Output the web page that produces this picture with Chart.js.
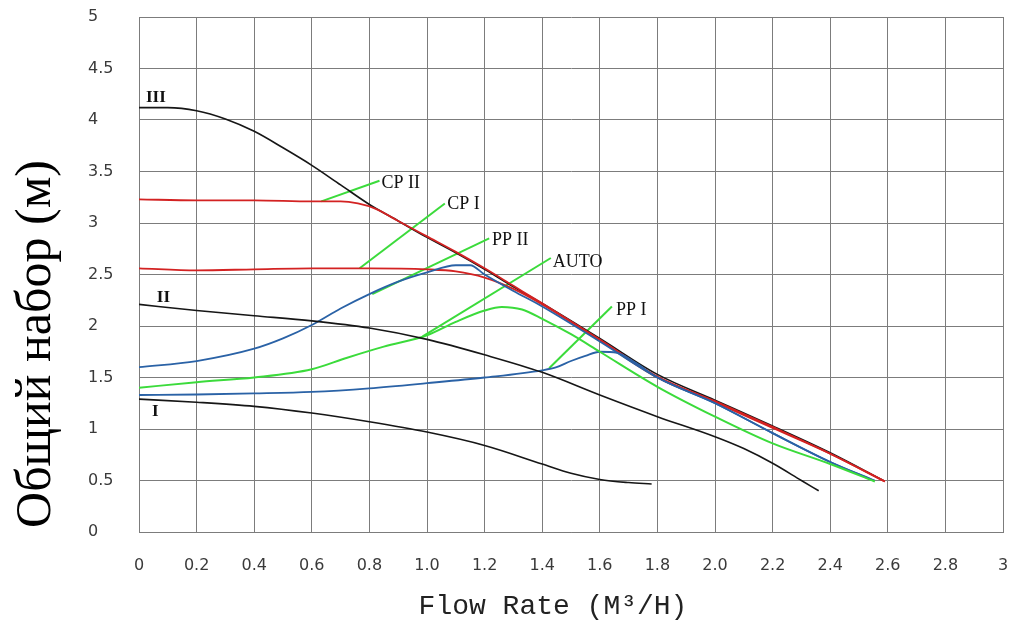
<!DOCTYPE html>
<html>
<head>
<meta charset="utf-8">
<script src="https://cdn.jsdelivr.net/npm/chart.js@4.4.1/dist/chart.umd.min.js"></script>
<style>
  html, body { margin: 0; padding: 0; background: #fff; }
  #wrap { width: 1018px; height: 626px; }
</style>
</head>
<body>
<div id="wrap"><canvas id="pumpChart" width="1018" height="626"></canvas></div>
<script>
// Кривые насоса: расход (м3/ч) и напор (м)
const xTickLabels = ['0', '0.2', '0.4', '0.6', '0.8', '1.0', '1.2', '1.4', '1.6', '1.8', '2.0', '2.2', '2.4', '2.6', '2.8', '3'];
const yTickLabels = ['0', '0.5', '1', '1.5', '2', '2.5', '3', '3.5', '4', '4.5', '5'];

const flowIII = [0, 0.1, 0.2, 0.3, 0.4, 0.5, 0.6, 0.7, 0.8, 0.9, 1.0, 1.1, 1.2, 1.3, 1.4, 1.6, 1.8, 2.0, 2.2, 2.4, 2.585];
const headIII = [4.12, 4.12, 4.09, 4.01, 3.89, 3.73, 3.56, 3.37, 3.18, 3.02, 2.86, 2.71, 2.55, 2.38, 2.22, 1.88, 1.53, 1.28, 1.03, 0.77, 0.5];

const flowII = [0, 0.2, 0.4, 0.6, 0.8, 1.0, 1.2, 1.4, 1.6, 1.8, 2.0, 2.1, 2.2, 2.3, 2.36];
const headII = [2.21, 2.15, 2.10, 2.05, 1.98, 1.87, 1.72, 1.55, 1.33, 1.12, 0.925, 0.81, 0.667, 0.5, 0.40];

const flowI = [0, 0.2, 0.4, 0.6, 0.8, 1.0, 1.2, 1.4, 1.5, 1.6, 1.7, 1.78];
const headI = [1.29, 1.26, 1.22, 1.155, 1.07, 0.97, 0.84, 0.66, 0.57, 0.51, 0.48, 0.466];

const flowCP2 = [0, 0.2, 0.4, 0.6, 0.7, 0.76, 0.82, 0.9, 1.0, 1.1, 1.2, 1.3, 1.4, 1.6, 1.8, 2.0, 2.2, 2.4, 2.59];
const headCP2 = [3.23, 3.22, 3.22, 3.21, 3.21, 3.19, 3.14, 3.02, 2.87, 2.72, 2.56, 2.39, 2.22, 1.87, 1.51, 1.27, 1.02, 0.76, 0.49];

const flowCP1 = [0, 0.2, 0.4, 0.6, 0.8, 1.0, 1.1, 1.2, 1.3, 1.4, 1.6, 1.8, 2.0, 2.2, 2.4, 2.59];
const headCP1 = [2.56, 2.54, 2.55, 2.56, 2.56, 2.55, 2.53, 2.47, 2.36, 2.21, 1.86, 1.5, 1.26, 1.01, 0.76, 0.49];

const flowPP2 = [0, 0.2, 0.4, 0.5, 0.6, 0.7, 0.8, 0.9, 1.0, 1.1, 1.15, 1.2, 1.3, 1.4, 1.6, 1.8, 2.0, 2.2, 2.4, 2.555];
const headPP2 = [1.6, 1.66, 1.78, 1.88, 2.01, 2.17, 2.31, 2.43, 2.52, 2.59, 2.59, 2.5, 2.34, 2.19, 1.85, 1.5, 1.25, 0.96, 0.68, 0.5];

const flowPP1 = [0, 0.2, 0.4, 0.6, 0.8, 1.0, 1.2, 1.4, 1.45, 1.5, 1.55, 1.6, 1.66, 1.72, 1.8, 2.0, 2.2, 2.4, 2.55];
const headPP1 = [1.33, 1.335, 1.345, 1.36, 1.395, 1.445, 1.5, 1.57, 1.6, 1.66, 1.71, 1.75, 1.74, 1.65, 1.5, 1.25, 0.96, 0.68, 0.5];

const flowAuto = [0, 0.2, 0.4, 0.6, 0.72, 0.85, 1.0, 1.1, 1.2, 1.26, 1.33, 1.4, 1.5, 1.6, 1.8, 2.0, 2.2, 2.4, 2.555];
const headAuto = [1.4, 1.455, 1.5, 1.58, 1.69, 1.8, 1.91, 2.04, 2.15, 2.185, 2.16, 2.07, 1.92, 1.75, 1.41, 1.12, 0.86, 0.66, 0.49];

// Выноски: [x0, y0, x1, y1] и подписи
const calloutNames = ['CP II', 'CP I', 'PP II', 'AUTO', 'PP I'];
const calloutLines = [
    [0.633, 3.21, 0.835, 3.41],
    [0.766, 2.56, 1.062, 3.19],
    [0.81, 2.31, 1.216, 2.85],
    [0.985, 1.90, 1.43, 2.66],
    [1.424, 1.59, 1.642, 2.19]
];
const calloutText = [[0.842, 3.39], [1.07, 3.18], [1.226, 2.83], [1.437, 2.62], [1.656, 2.155]];
const curveNames = ['III', 'II', 'I'];
const curveText = [[0.024, 4.22], [0.062, 2.28], [0.045, 1.17]];

function toPoints(xs, ys) {
    return xs.map((x, i) => ({ x: x, y: ys[i] }));
}

function curve(xs, ys, color, width) {
    return {
        data: toPoints(xs, ys),
        borderColor: color,
        borderWidth: width,
        showLine: true,
        pointRadius: 0,
        fill: false,
        cubicInterpolationMode: 'monotone'
    };
}

const BLACK = '#161616';
const RED = '#d32222';
const BLUE = '#2a62a6';
const GREEN = '#3bdb3b';

const datasets = [
    curve(flowI, headI, BLACK, 1.6),
    curve(flowII, headII, BLACK, 1.6),
    curve(flowAuto, headAuto, GREEN, 2),
    curve(flowPP1, headPP1, BLUE, 1.8),
    curve(flowPP2, headPP2, BLUE, 1.8),
    curve(flowCP1, headCP1, RED, 1.8),
    curve(flowCP2, headCP2, RED, 1.8),
    curve(flowIII, headIII, BLACK, 1.6)
];
calloutLines.forEach(l => {
    datasets.push({
        data: [{ x: l[0], y: l[1] }, { x: l[2], y: l[3] }],
        borderColor: GREEN,
        borderWidth: 2,
        showLine: true,
        pointRadius: 0,
        fill: false
    });
});

// Подписи кривых и осей
const textPlugin = {
    id: 'pumpText',
    beforeDraw(chart) {
        const c = chart.ctx;
        c.save();
        c.fillStyle = '#fff';
        c.fillRect(0, 0, chart.width, chart.height);
        c.restore();
    },
    afterDraw(chart) {
        const c = chart.ctx;
        const xs = chart.scales.x, ys = chart.scales.y;
        c.save();
        c.fillStyle = '#111';
        c.textBaseline = 'middle';
        c.textAlign = 'left';
        c.font = '18px "Liberation Serif"';
        calloutNames.forEach((t, i) => {
            c.fillText(t, xs.getPixelForValue(calloutText[i][0]), ys.getPixelForValue(calloutText[i][1]));
        });
        c.font = 'bold 17px "Liberation Serif"';
        curveNames.forEach((t, i) => {
            c.fillText(t, xs.getPixelForValue(curveText[i][0]), ys.getPixelForValue(curveText[i][1]));
        });

        // подпись оси X
        c.textAlign = 'center';
        c.textBaseline = 'alphabetic';
        c.font = '28px "Liberation Mono"';
        c.fillStyle = '#222';
        c.fillText('Flow Rate (M³/H)', 553, 614);

        // подпись оси Y
        c.translate(50, 344);
        c.rotate(-Math.PI / 2);
        c.font = '50px "Liberation Serif"';
        c.fillStyle = '#000';
        c.fillText('Общий набор (м)', 0, 0);
        c.restore();
    }
};

const ctx = document.getElementById('pumpChart').getContext('2d');
new Chart(ctx, {
    type: 'scatter',
    data: { datasets: datasets },
    plugins: [textPlugin],
    options: {
        responsive: false,
        animation: false,
        layout: { padding: { left: 88, right: 15, top: 17, bottom: 0 } },
        plugins: { legend: { display: false }, tooltip: { enabled: false } },
        scales: {
            x: {
                type: 'linear',
                min: 0,
                max: 3,
                afterFit: s => { s.height = 94; s.paddingLeft = 0; s.paddingRight = 0; },
                grid: { color: '#7c7c7c', lineWidth: 1, drawTicks: false },
                border: { color: '#7c7c7c' },
                ticks: {
                    stepSize: 0.2,
                    padding: 24,
                    color: '#3a3a3a',
                    font: { family: 'DejaVu Sans', size: 16 },
                    callback: (v, i) => xTickLabels[i]
                }
            },
            y: {
                type: 'linear',
                min: 0,
                max: 5,
                afterFit: s => { s.width = 51; },
                grid: { color: '#7c7c7c', lineWidth: 1, drawTicks: false },
                border: { color: '#7c7c7c' },
                ticks: {
                    stepSize: 0.5,
                    crossAlign: 'far',
                    color: '#3a3a3a',
                    font: { family: 'DejaVu Sans', size: 16 },
                    callback: (v, i) => yTickLabels[i]
                }
            }
        }
    }
});
</script>
</body>
</html>
